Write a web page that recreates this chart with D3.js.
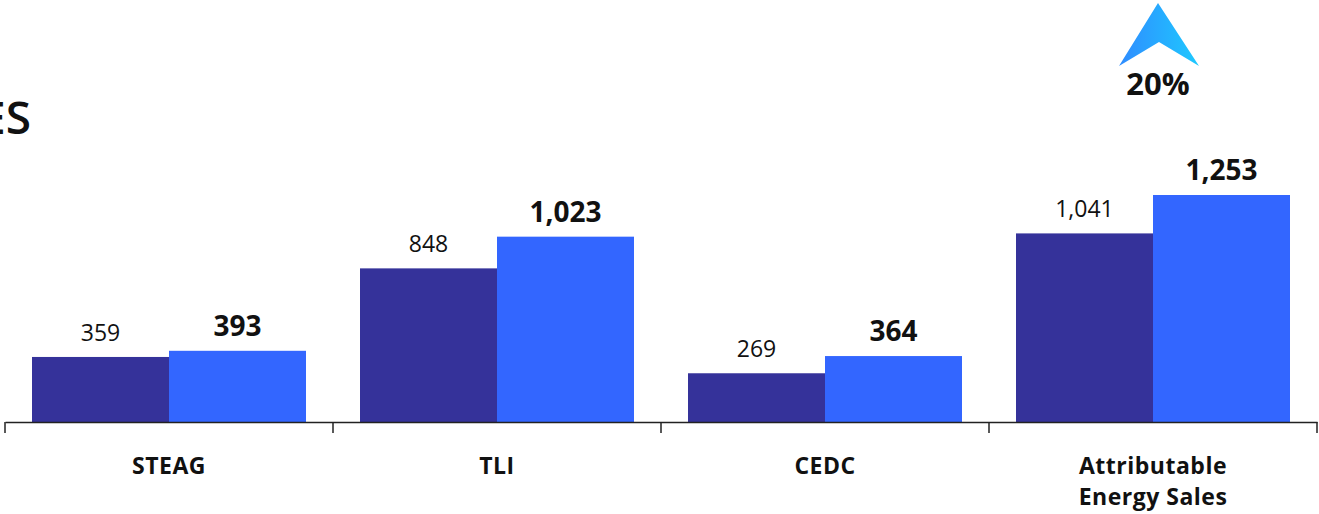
<!DOCTYPE html>
<html><head><meta charset="utf-8">
<script src="https://cdn.jsdelivr.net/npm/d3@7"></script>
<style>body{margin:0;background:#fff;} svg{display:block;}</style>
</head><body>
<svg id="c" width="1319" height="514"></svg>
<script>
const categories = ["STEAG", "TLI", "CEDC", "Attributable\nEnergy Sales"];
const prevValues = [359, 848, 269, 1041];
const currValues = [393, 1023, 364, 1253];
const growthLabel = "20%";
const titleFragment = "ES";

const svg = d3.select("#c");
const font = "'Open Sans', Lato, sans-serif";
const base = 422;
const x = d3.scaleBand().domain(categories).range([5, 1317]).paddingInner(0).paddingOuter(0);
const inner = d3.scaleBand().domain(["prev","curr"]).range([27, x.bandwidth()-27]).padding(0);
const y = d3.scaleLinear().domain([0, 1253]).range([base, 195]);
const fmt = d3.format(",");

svg.append("text").attr("x", 31).attr("y", 134).attr("text-anchor","end")
  .attr("font-family", font).attr("font-size", 46).attr("font-weight", 600).attr("fill","#111").text(titleFragment);

const g = svg.selectAll("g.cat").data(categories).enter().append("g")
  .attr("transform", d => `translate(${x(d)},0)`);

g.append("rect").attr("x", inner("prev")).attr("width", inner.bandwidth())
  .attr("y", (d,i) => y(prevValues[i])).attr("height", (d,i) => base - y(prevValues[i]))
  .attr("fill", "#35329a");
g.append("rect").attr("x", inner("curr")).attr("width", inner.bandwidth())
  .attr("y", (d,i) => y(currValues[i])).attr("height", (d,i) => base - y(currValues[i]))
  .attr("fill", "#3366ff");

g.append("text").attr("x", inner("prev") + inner.bandwidth()/2)
  .attr("y", (d,i) => y(prevValues[i]) - 16).attr("text-anchor","middle")
  .attr("font-family", font).attr("font-size", 23).attr("fill","#111")
  .text((d,i) => fmt(prevValues[i]));
g.append("text").attr("x", inner("curr") + inner.bandwidth()/2)
  .attr("y", (d,i) => y(currValues[i]) - 15).attr("text-anchor","middle")
  .attr("font-family", font).attr("font-size", 28).attr("font-weight", 700).attr("fill","#111")
  .text((d,i) => fmt(currValues[i]));

// axis
const axis = d3.axisBottom(x).tickSize(0).tickFormat("");
const ag = svg.append("g").attr("transform", `translate(0,${base})`).call(axis);
ag.select(".domain").attr("stroke","#222").attr("stroke-width",1.5);
const edges = categories.map(d => x(d)).concat([x.range()[1]]);
svg.selectAll("line.tk").data(edges).enter().append("line")
  .attr("x1", d => d).attr("x2", d => d).attr("y1", base).attr("y2", base + 11)
  .attr("stroke","#222").attr("stroke-width",1.5);

g.each(function(d){
  const lines = d.split("\n");
  const t = d3.select(this).append("text").attr("text-anchor","middle")
    .attr("font-family", font).attr("font-size", 23).attr("font-weight", 700)
    .attr("letter-spacing", 0.5).attr("fill","#111");
  lines.forEach((l, k) => {
    t.append("tspan").attr("x", x.bandwidth()/2).attr("y", 474 + k*31).text(l);
  });
});

// growth arrow
const defs = svg.append("defs");
const grad = defs.append("linearGradient").attr("id","ag").attr("x1","0").attr("x2","1").attr("y1","0").attr("y2","0");
grad.append("stop").attr("offset","0").attr("stop-color","#2f8cff");
grad.append("stop").attr("offset","1").attr("stop-color","#1ec9ff");
svg.append("path").attr("d","M1158,3 L1199,66 L1159,42 L1119,66 Z").attr("fill","url(#ag)");
svg.append("text").attr("x",1158).attr("y",95).attr("text-anchor","middle")
  .attr("font-family", font).attr("font-size", 31).attr("font-weight", 700).attr("fill","#111").text(growthLabel);
</script>
</body></html>
